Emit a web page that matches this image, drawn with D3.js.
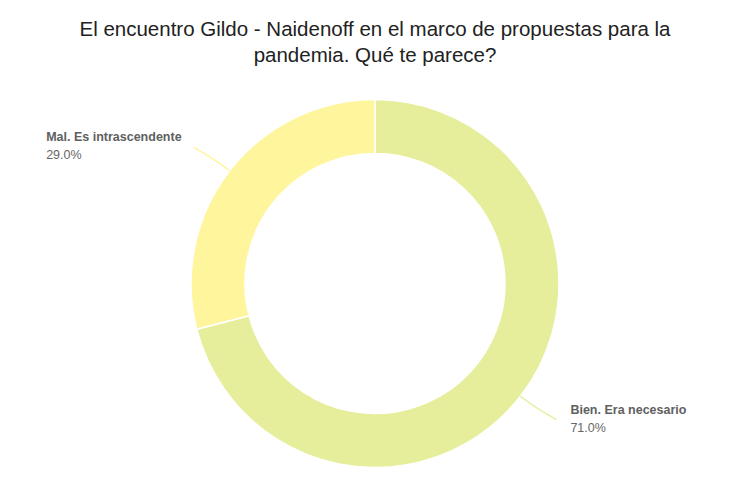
<!DOCTYPE html>
<html>
<head>
<meta charset="utf-8">
<script src="https://cdn.jsdelivr.net/npm/d3@7"></script>
<style>
  body { margin: 0; background: #fff; }
  svg { display: block; font-family: "Liberation Sans", Arial, sans-serif; }
</style>
</head>
<body>
<svg id="donut" width="750" height="500"></svg>
<script>
var titleLines = ["El encuentro Gildo - Naidenoff en el marco de propuestas para la", "pandemia. Qué te parece?"];
var categories = ["Bien. Era necesario", "Mal. Es intrascendente"];
var values = [71.0, 29.0];
var colors = ["#e6ee9c", "#fff59d"];

drawDonut();

function drawDonut(){
  var svg = d3.select("#donut"),
  cx = 375, cy = 283.5,
  outerR = 184, innerR = 130;

  var data = categories.map(function(c, i) { return {name: c, value: values[i]}; });

  svg.append("g")
  .selectAll("text")
  .data(titleLines)
  .enter().append("text")
  .attr("x", cx)
  .attr("y", function(d, i) { return 36 + i * 26; })
  .attr("text-anchor", "middle")
  .attr("font-size", 20.5)
  .attr("fill", "#222")
  .text(function(d) { return d; });

  var color = d3.scaleOrdinal().domain(categories).range(colors);
  var pie = d3.pie().sort(null).value(function(d) { return d.value; });
  var arc = d3.arc().innerRadius(innerR).outerRadius(outerR);

  var g = svg.append("g").attr("transform", "translate(" + cx + "," + cy + ")");
  var slices = pie(data);

  g.selectAll("path.slice")
  .data(slices)
  .enter().append("path")
  .attr("class", "slice")
  .attr("d", arc)
  .attr("fill", function(d) { return color(d.data.name); })
  .attr("stroke", "#fff")
  .attr("stroke-width", 1.5);

  // leader lines and labels
  function pt(a, r) { return [r * Math.sin(a), -r * Math.cos(a)]; }

  var lab = g.selectAll("g.lab")
  .data(slices)
  .enter().append("g")
  .attr("class", "lab");

  lab.append("path")
  .attr("fill", "none")
  .attr("stroke", function(d) { return color(d.data.name); })
  .attr("stroke-width", 1.5)
  .attr("d", function(d) {
    var a = (d.startAngle + d.endAngle) / 2;
    var side = Math.sin(a) < 0 ? -1 : 1;
    var p0 = pt(a, outerR), c = pt(a, 204), p1 = pt(a, 222);
    p1[0] += side * 6;
    return "M" + p0 + "Q" + c + " " + p1;
  });

  lab.each(function(d) {
    var a = (d.startAngle + d.endAngle) / 2;
    var side = Math.sin(a) < 0 ? -1 : 1;
    var p1 = pt(a, 222);
    p1[0] += side * 6;
    var t = d3.select(this).append("text")
    .attr("font-size", 12.5)
    .attr("fill", "#666");
    var name = t.append("tspan")
    .attr("y", p1[1] - 6)
    .attr("font-weight", "bold")
    .attr("fill", "#606060")
    .text(d.data.name);
    var w = name.node().getComputedTextLength();
    var tx = side < 0 ? p1[0] - 12 - w : p1[0] + 14;
    name.attr("x", tx);
    t.append("tspan")
    .attr("x", tx)
    .attr("y", p1[1] + 12)
    .text(d.data.value.toFixed(1) + "%");
  });
}
</script>
</body>
</html>
